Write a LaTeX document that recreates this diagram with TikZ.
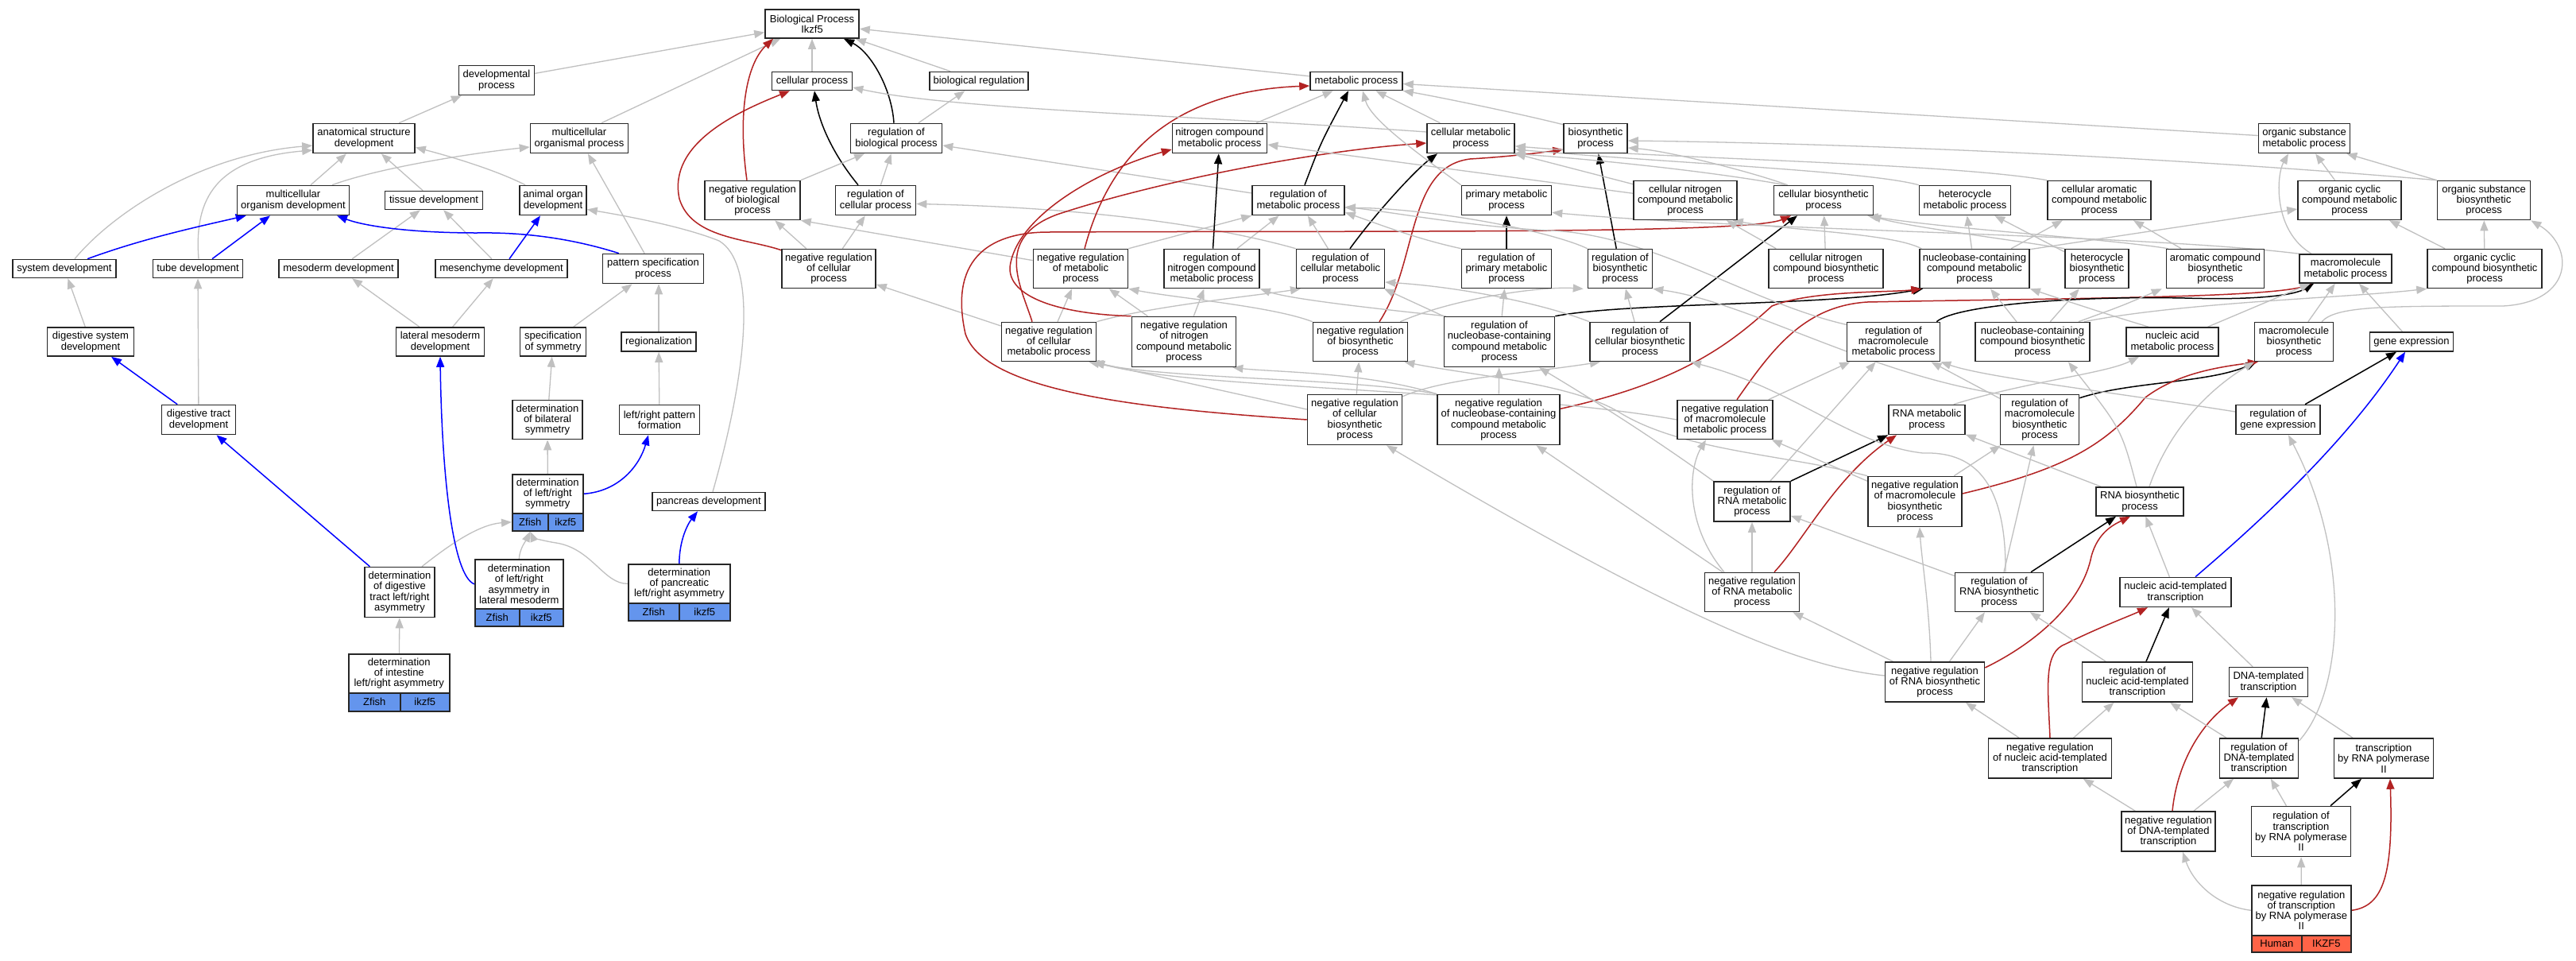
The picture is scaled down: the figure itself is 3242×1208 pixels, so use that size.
\documentclass[tikz,border=0pt]{standalone}
\usepackage{fontspec}
\setmainfont{Liberation Sans}
\usetikzlibrary{arrows.meta}
\definecolor{edgegray}{HTML}{C0C0C0}
\definecolor{negred}{HTML}{B22222}
\definecolor{zfblue}{HTML}{6495ED}
\definecolor{hstomato}{HTML}{FF6347}
\pgfdeclarelayer{back}
\pgfdeclarelayer{edgelayer}
\pgfsetlayers{back,edgelayer,main}
\tikzset{
  gobox/.style={draw=black!85, line width=1.6pt, fill=white, inner sep=0pt, align=center, font=\fontsize{13}{13.3}\selectfont},
  annbox/.style={draw=black!85, line width=1.6pt, inner sep=0pt, align=center, anchor=north west, font=\fontsize{13}{13.3}\selectfont},
  goarrow/.style={-{Triangle[length=13pt,width=10pt]}},
  gE/.style={draw=edgegray, line width=1.3pt, goarrow},
  kE/.style={draw=black, line width=1.5pt, goarrow},
  rE/.style={draw=negred, line width=1.5pt, goarrow},
  bE/.style={draw=blue, line width=1.5pt, goarrow},
}
\newcommand\gonode[6]{\node[gobox, minimum width=#4pt, minimum height=#5pt] (#1) at (#2,-#3) {#6};}
\begin{document}
\begin{tikzpicture}[x=1pt,y=1pt]
\useasboundingbox (0,0) rectangle (3242,-1208);
\begin{pgfonlayer}{back}
\fill[white] (0,0) rectangle (3242,-1208);
\end{pgfonlayer}
% ---------- nodes ----------
\gonode{BP}{1022}{30}{118}{36}{Biological Process\\Ikzf5}
\gonode{dev}{625}{101}{95}{37}{developmental\\process}
\gonode{cp}{1022}{102}{101}{23}{cellular process}
\gonode{breg}{1232}{102}{124}{23}{biological regulation}
\gonode{mp}{1707}{102}{116}{23}{metabolic process}
\gonode{asd}{458}{174}{128}{37}{anatomical structure\\development}
\gonode{mop}{729}{174}{123}{37}{multicellular\\organismal process}
\gonode{rbp}{1128}{174}{115}{37}{regulation of\\biological process}
\gonode{ncmp}{1535}{174}{119}{37}{nitrogen compound\\metabolic process}
\gonode{cmp}{1851}{174}{110}{37}{cellular metabolic\\process}
\gonode{bsp}{2008}{174}{80}{37}{biosynthetic\\process}
\gonode{osmp}{2900}{174}{115}{37}{organic substance\\metabolic process}
\gonode{mod}{369}{252}{141}{37}{multicellular\\organism development}
\gonode{td}{546}{252}{123}{23}{tissue development}
\gonode{aod}{696}{252}{84}{37}{animal organ\\development}
\gonode{nrbp}{947}{252}{120}{49}{negative regulation\\of biological\\process}
\gonode{rcp}{1102}{252}{101}{37}{regulation of\\cellular process}
\gonode{rmp}{1634}{252}{116}{37}{regulation of\\metabolic process}
\gonode{pmp}{1896}{252}{113}{37}{primary metabolic\\process}
\gonode{cncmp}{2121}{252}{130}{49}{cellular nitrogen\\compound metabolic\\process}
\gonode{cbp}{2295}{252}{125}{37}{cellular biosynthetic\\process}
\gonode{hmp}{2473}{252}{115}{37}{heterocycle\\metabolic process}
\gonode{camp}{2642}{252}{130}{49}{cellular aromatic\\compound metabolic\\process}
\gonode{occmp}{2957}{252}{130}{49}{organic cyclic\\compound metabolic\\process}
\gonode{osbp}{3126}{252}{117}{49}{organic substance\\biosynthetic\\process}
\gonode{sd}{81}{338}{130}{23}{system development}
\gonode{tubed}{249}{338}{113}{23}{tube development}
\gonode{mesod}{426}{338}{150}{23}{mesoderm development}
\gonode{mesen}{631}{338}{166}{23}{mesenchyme development}
\gonode{psp}{822}{338}{127}{37}{pattern specification\\process}
\gonode{nrcp}{1043}{338}{118}{49}{negative regulation\\of cellular\\process}
\gonode{nrmp}{1360}{338}{119}{49}{negative regulation\\of metabolic\\process}
\gonode{rncmp}{1525}{338}{120}{49}{regulation of\\nitrogen compound\\metabolic process}
\gonode{rcmp}{1687}{338}{111}{49}{regulation of\\cellular metabolic\\process}
\gonode{rpmp}{1896}{338}{113}{49}{regulation of\\primary metabolic\\process}
\gonode{rbsp}{2039}{338}{81}{49}{regulation of\\biosynthetic\\process}
\gonode{cncbp}{2298}{338}{144}{49}{cellular nitrogen\\compound biosynthetic\\process}
\gonode{nbcmp}{2485}{338}{138}{49}{nucleobase-containing\\compound metabolic\\process}
\gonode{hbp}{2639}{338}{80}{49}{heterocycle\\biosynthetic\\process}
\gonode{abp}{2788}{338}{123}{49}{aromatic compound\\biosynthetic\\process}
\gonode{mmp}{2952}{338}{116}{36}{macromolecule\\metabolic process}
\gonode{occbp}{3127}{338}{144}{49}{organic cyclic\\compound biosynthetic\\process}
\gonode{dsd}{114}{430}{109}{36}{digestive system\\development}
\gonode{lmd}{554}{430}{111}{36}{lateral mesoderm\\development}
\gonode{sos}{696}{430}{83}{36}{specification\\of symmetry}
\gonode{regz}{829}{430}{94}{24}{regionalization}
\gonode{nrcmp}{1320}{430}{119}{49}{negative regulation\\of cellular\\metabolic process}
\gonode{nrncmp}{1490}{430}{131}{63}{negative regulation\\of nitrogen\\compound metabolic\\process}
\gonode{nrbsp}{1712}{430}{119}{49}{negative regulation\\of biosynthetic\\process}
\gonode{rnbcmp}{1887}{430}{139}{63}{regulation of\\nucleobase-containing\\compound metabolic\\process}
\gonode{rcbp}{2064}{430}{126}{49}{regulation of\\cellular biosynthetic\\process}
\gonode{rmmp}{2383}{430}{117}{49}{regulation of\\macromolecule\\metabolic process}
\gonode{nbcbp}{2558}{430}{144}{49}{nucleobase-containing\\compound biosynthetic\\process}
\gonode{namp}{2734}{430}{116}{36}{nucleic acid\\metabolic process}
\gonode{mbp}{2887}{430}{99}{49}{macromolecule\\biosynthetic\\process}
\gonode{ge}{3035}{430}{105}{24}{gene expression}
\gonode{dtd}{250}{528}{93}{37}{digestive tract\\development}
\gonode{dbs}{689}{528}{88}{49}{determination\\of bilateral\\symmetry}
\gonode{lrpf}{830}{528}{101}{37}{left/right pattern\\formation}
\gonode{nrcbp}{1705}{528}{119}{63}{negative regulation\\of cellular\\biosynthetic\\process}
\gonode{nrnbcmp}{1886}{528}{154}{63}{negative regulation\\of nucleobase-containing\\compound metabolic\\process}
\gonode{nrmmp}{2171}{528}{120}{49}{negative regulation\\of macromolecule\\metabolic process}
\gonode{rnamp}{2425}{528}{96}{37}{RNA metabolic\\process}
\gonode{rmbp}{2567}{528}{99}{63}{regulation of\\macromolecule\\biosynthetic\\process}
\gonode{rge}{2867}{528}{106}{37}{regulation of\\gene expression}
\gonode{pd}{892}{631}{142}{23}{pancreas development}
\gonode{rrnamp}{2205}{631}{96}{50}{regulation of\\RNA metabolic\\process}
\gonode{nrmbp}{2410}{631}{118}{63}{negative regulation\\of macromolecule\\biosynthetic\\process}
\gonode{rnabp}{2693}{631}{110}{36}{RNA biosynthetic\\process}
\gonode{ddt}{503}{745}{88}{63}{determination\\of digestive\\tract left/right\\asymmetry}
\gonode{nrrnamp}{2205}{745}{119}{49}{negative regulation\\of RNA metabolic\\process}
\gonode{rrnabp}{2516}{745}{111}{49}{regulation of\\RNA biosynthetic\\process}
\gonode{nat}{2738}{745}{140}{37}{nucleic acid-templated\\transcription}
\gonode{nrrnabp}{2435}{858}{125}{50}{negative regulation\\of RNA biosynthetic\\process}
\gonode{rnat}{2690}{858}{139}{50}{regulation of\\nucleic acid-templated\\transcription}
\gonode{dtt}{2855}{858}{99}{37}{DNA-templated\\transcription}
\gonode{nrnat}{2580}{954}{155}{50}{negative regulation\\of nucleic acid-templated\\transcription}
\gonode{rdtt}{2843}{954}{99}{50}{regulation of\\DNA-templated\\transcription}
\gonode{trp2}{3000}{954}{125}{50}{transcription\\by RNA polymerase\\II}
\gonode{nrdtt}{2729}{1046}{118}{50}{negative regulation\\of DNA-templated\\transcription}
\gonode{rtrp2}{2896}{1046}{125}{63}{regulation of\\transcription\\by RNA polymerase\\II}
% annotated nodes
\node[gobox, anchor=north west, minimum width=89pt, minimum height=49pt] (dlrs) at (644,-596) {determination\\of left/right\\symmetry};
\node[annbox, fill=zfblue, minimum width=45pt, minimum height=22pt] (dlrsA) at (644,-645) {Zfish};
\node[annbox, fill=zfblue, minimum width=44pt, minimum height=22pt] (dlrsB) at (689,-645) {ikzf5};
\node[gobox, anchor=north west, minimum width=111pt, minimum height=62pt] (dlrlm) at (597,-703) {determination\\of left/right\\asymmetry in\\lateral mesoderm};
\node[annbox, fill=zfblue, minimum width=56pt, minimum height=22pt] (dlrlmA) at (597,-765) {Zfish};
\node[annbox, fill=zfblue, minimum width=55pt, minimum height=22pt] (dlrlmB) at (653,-765) {ikzf5};
\node[gobox, anchor=north west, minimum width=128pt, minimum height=49pt] (dpa) at (790,-709) {determination\\of pancreatic\\left/right asymmetry};
\node[annbox, fill=zfblue, minimum width=64pt, minimum height=22pt] (dpaA) at (790,-758) {Zfish};
\node[annbox, fill=zfblue, minimum width=64pt, minimum height=22pt] (dpaB) at (854,-758) {ikzf5};
\node[gobox, anchor=north west, minimum width=127pt, minimum height=49pt] (dila) at (438,-822) {determination\\of intestine\\left/right asymmetry};
\node[annbox, fill=zfblue, minimum width=65pt, minimum height=23pt] (dilaA) at (438,-871) {Zfish};
\node[annbox, fill=zfblue, minimum width=62pt, minimum height=23pt] (dilaB) at (503,-871) {ikzf5};
\node[gobox, anchor=north west, minimum width=125pt, minimum height=63pt] (nrtrp2) at (2833,-1113) {negative regulation\\of transcription\\by RNA polymerase\\II};
\node[annbox, fill=hstomato, minimum width=63pt, minimum height=21pt] (nrtrp2A) at (2833,-1176) {Human};
\node[annbox, fill=hstomato, minimum width=62pt, minimum height=21pt] (nrtrp2B) at (2896,-1176) {IKZF5};
% ---------- edges ----------
\begin{pgfonlayer}{edgelayer}
% left cluster
\draw[gE] (dev) -- (BP);
\draw[gE] ([xshift=28pt]mop.north) -- (BP);
\draw[gE] (asd) -- (dev);
\draw[gE] (mod) -- (asd);
\draw[gE] ([xshift=49pt]mod.north) .. controls (480,-210) and (600,-192) .. (mop.190);
\draw[gE] (td) -- (asd);
\draw[gE] ([xshift=8pt]aod.north west) .. controls (620,-212) and (560,-195) .. (asd.-10);
\draw[gE] ([xshift=13pt]sd.north) .. controls (140,-270) and (250,-195) .. (asd.188);
\draw[gE] ([xshift=1pt]tubed.north) .. controls (245,-260) and (262,-200) .. (asd.193);
\draw[gE] (mesod) -- (td);
\draw[gE] (mesen) -- (td);
\draw[gE] (psp) -- (mop);
\draw[gE] ([xshift=5pt]pd.north) .. controls (945,-450) and (950,-330) .. (905,-303) .. controls (860,-285) and (790,-272) .. (aod.-15);
\draw[gE] (dsd) -- (sd);
\draw[gE] (dtd) -- (tubed);
\draw[gE] (lmd) -- (mesod);
\draw[gE] (lmd) -- (mesen);
\draw[gE] (sos) -- (psp);
\draw[gE] (regz.north) -- ([xshift=7pt]psp.south);
\draw[gE] (dbs) -- (sos);
\draw[gE] (lrpf) -- (regz);
\draw[gE] (dlrs) -- (dbs);
\draw[gE] ([xshift=28pt]ddt.north) .. controls (560,-690) and (600,-660) .. (dlrsA.west);
\draw[gE] (dlrlm.north) .. controls (654,-690) and (662,-680) .. (dlrsA.south);
\draw[gE] (dpa.west) .. controls (760,-735) and (745,-690) .. (700,-683) .. controls (680,-680) and (670,-675) .. (dlrsA.south);
\draw[gE] (dila) -- (ddt);
\draw[bE] ([xshift=29pt]sd.north) .. controls (180,-300) and (250,-285) .. ([xshift=12pt]mod.south west);
\draw[bE] ([xshift=18pt]tubed.north) -- ([xshift=-29pt]mod.south);
\draw[bE] ([xshift=-43pt]psp.north) .. controls (720,-300) and (660,-292) .. (600,-293) .. controls (520,-293) and (460,-285) .. ([xshift=55pt]mod.south);
\draw[bE] ([xshift=10pt]mesen.north) -- ([xshift=-16pt]aod.south);
\draw[bE] (dtd) -- (dsd);
\draw[bE] (ddt) -- (dtd);
\draw[bE] (dlrlm.west) .. controls (570,-725) and (556,-600) .. (lmd.south);
\draw[bE] (dlrs.east) .. controls (780,-618) and (805,-585) .. ([xshift=-14pt]lrpf.south);
\draw[bE] (dpa.north) .. controls (855,-680) and (865,-660) .. ([xshift=-14pt]pd.south);
% upper middle
\draw[gE] (cp) -- (BP);
\draw[kE] ([xshift=-3pt]rbp.north) .. controls (1122,-110) and (1095,-65) .. ([xshift=40pt]BP.south);
\draw[gE] (breg) -- (BP);
\draw[rE] ([xshift=-7pt]nrbp.north) .. controls (928,-140) and (940,-80) .. ([xshift=-49pt]BP.south);
\draw[gE] (mp) -- (BP);
\draw[gE] (rbp) -- (breg);
\draw[kE] ([xshift=-22pt]rcp.north) .. controls (1045,-190) and (1030,-150) .. ([xshift=3pt]cp.south);
\draw[gE] (rcp) -- (rbp);
\draw[gE] (nrbp.north east) -- ([xshift=-40pt]rbp.south);
\draw[rE] ([yshift=-2pt]nrcp.north west) .. controls (940,-300) and (870,-300) .. (855,-250) .. controls (840,-180) and (930,-140) .. ([xshift=-28pt]cp.south);
\draw[gE] (nrcp) -- (nrbp);
\draw[gE] (nrcp) -- (rcp);
\draw[gE] (rmp) -- (rbp);
\draw[gE] (rcmp.north west) .. controls (1550,-290) and (1400,-262) .. (rcp.-5);
\draw[gE] (nrcmp) -- (nrcp);
\draw[gE] (nrmp) -- (nrbp.south east);
\draw[gE] (nrmp.north east) -- (rmp.south west);
\draw[gE] (rncmp) -- (rmp);
\draw[kE] (rncmp) -- (ncmp);
\draw[gE] (nrcmp) -- (nrmp);
\draw[gE] (nrncmp) -- (nrmp);
\draw[gE] (nrncmp) -- (rncmp);
\draw[gE] (nrcmp.north east) .. controls (1450,-385) and (1580,-372) .. ([xshift=-50pt]rcmp.south);
\draw[rE] ([xshift=5pt]nrmp.north) .. controls (1395,-200) and (1470,-115) .. ([yshift=-6pt]mp.west);
\draw[rE] (nrncmp.north west) .. controls (1330,-395) and (1262,-372) .. (1272,-330) .. controls (1285,-270) and (1380,-215) .. (ncmp.193);
\draw[rE] ([xshift=-21pt]nrcmp.north) .. controls (1285,-360) and (1250,-300) .. (1330,-270) .. controls (1450,-230) and (1650,-190) .. ([yshift=-6pt]cmp.west);
\draw[rE] (nrcbp.west) .. controls (1450,-515) and (1240,-495) .. (1215,-420) .. controls (1195,-330) and (1240,-292) .. (1320,-292) .. controls (1700,-290) and (2200,-295) .. ([xshift=-41pt]cbp.south);
\draw[rE] ([xshift=24pt]nrbsp.north) .. controls (1785,-330) and (1770,-210) .. (1850,-200) .. controls (1900,-197) and (1940,-192) .. (bsp.199);
\draw[kE] ([xshift=8pt]rmp.north) .. controls (1662,-180) .. ([xshift=-10pt]mp.south);
\draw[kE] ([xshift=12pt]rcmp.north) .. controls (1730,-270) and (1780,-215) .. ([xshift=-42pt]cmp.south);
\draw[kE] (rpmp) -- (pmp);
\draw[kE] (rbsp) -- (bsp);
\draw[kE] ([xshift=25pt]rcbp.north) -- ([xshift=-33pt]cbp.south);
\draw[kE] (rnbcmp.north east) .. controls (2050,-380) and (2300,-385) .. ([xshift=5pt]nbcmp.south west);
\draw[rE] (nrnbcmp.10) .. controls (2120,-480) and (2180,-430) .. (2230,-385) .. controls (2280,-365) and (2380,-368) .. ([xshift=3pt]nbcmp.south west);
\draw[rE] ([xshift=15pt]nrmmp.north) .. controls (2230,-440) and (2270,-385) .. (2350,-380) .. controls (2600,-375) and (2850,-375) .. ([xshift=-40pt]mmp.south);
\draw[kE] ([xshift=-5pt]rmmp.north east) .. controls (2460,-385) and (2600,-372) .. (2750,-375) .. controls (2850,-378) and (2890,-370) .. ([xshift=-40pt]mmp.south);
\draw[kE] ([yshift=-5pt]rmbp.north east) .. controls (2680,-480) and (2780,-482) .. ([xshift=-47pt]mbp.south);
\draw[rE] ([yshift=10pt]nrmbp.east) .. controls (2600,-590) and (2650,-560) .. (2700,-500) .. controls (2740,-470) and (2790,-462) .. ([xshift=-45pt]mbp.south);
\draw[kE] (rrnamp.north east) -- (rnamp.south west);
\draw[rE] ([xshift=28pt]nrrnamp.north) .. controls (2270,-680) and (2310,-600) .. ([xshift=-38pt]rnamp.south);
\draw[kE] ([xshift=40pt]rrnabp.north) -- ([xshift=-30pt]rnabp.south);
\draw[rE] ([yshift=18pt]nrrnabp.east) .. controls (2560,-810) and (2620,-760) .. (2632,-700) .. controls (2640,-670) and (2660,-660) .. ([xshift=-12pt]rnabp.south);
\draw[kE] (rnat) -- (nat);
\draw[rE] (nrnat.north) .. controls (2577,-860) and (2572,-820) .. (2600,-810) .. controls (2640,-790) and (2680,-775) .. ([xshift=-35pt]nat.south);
\draw[kE] (rdtt) -- (dtt);
\draw[rE] ([xshift=5pt]nrdtt.north) .. controls (2740,-960) and (2770,-910) .. ([xshift=-38pt]dtt.south);
\draw[kE] ([xshift=37pt]rtrp2.north) -- ([xshift=-28pt]trp2.south);
\draw[rE] (nrtrp2.east) .. controls (3000,-1140) and (3012,-1100) .. ([xshift=8pt]trp2.south);
\draw[kE] ([xshift=34pt]rge.north) -- ([xshift=-19pt]ge.south);
\draw[bE] ([xshift=25pt]nat.north) .. controls (2840,-660) and (2950,-560) .. ([xshift=-8pt]ge.south);
% gray middle / right
\draw[gE] ([yshift=8pt]cmp.west) .. controls (1500,-145) and (1200,-138) .. ([yshift=-8pt]cp.east);
\draw[gE] (ncmp) -- (mp);
\draw[gE] (pmp.north west) .. controls (1780,-190) and (1725,-150) .. ([xshift=8pt]mp.south);
\draw[gE] (cmp) -- (mp);
\draw[gE] ([yshift=-2pt]bsp.north west) .. controls (1900,-140) and (1800,-120) .. (mp.south east);
\draw[gE] (osmp) -- (mp);
\draw[gE] (cncmp) -- (ncmp);
\draw[gE] ([yshift=-5pt]cncmp.north west) -- (cmp.south east);
\draw[gE] ([xshift=15pt]cbp.north west) .. controls (2150,-215) and (2000,-200) .. ([xshift=-3pt]cmp.south east);
\draw[gE] ([xshift=18pt]cbp.north west) .. controls (2200,-215) and (2100,-190) .. ([yshift=-12pt]bsp.east);
\draw[gE] (osbp.north west) .. controls (2700,-195) and (2300,-180) .. ([yshift=-3pt]bsp.east);
\draw[gE] (camp.north west) .. controls (2450,-205) and (2100,-200) .. (cmp.-10);
\draw[gE] (hmp.north west) .. controls (2350,-215) and (2100,-205) .. (cmp.-14);
\draw[gE] (mmp.north west) .. controls (2700,-295) and (2200,-290) .. (pmp.-15);
\draw[gE] (rcmp) -- (rmp);
\draw[gE] (rpmp.north west) .. controls (1780,-300) and (1730,-280) .. ([yshift=4pt]rmp.south east);
\draw[gE] (rbsp.north west) .. controls (1950,-290) and (1800,-262) .. ([yshift=10pt]rmp.south east);
\draw[gE] (rmmp.160) .. controls (2200,-380) and (2080,-295) .. (1950,-290) .. controls (1850,-285) and (1760,-268) .. (rmp.-8);
\draw[gE] ([xshift=3pt]nbcmp.north west) .. controls (2380,-293) and (2250,-290) .. ([xshift=-6pt]cncmp.south east);
\draw[gE] ([xshift=10pt]cncbp.north west) -- ([xshift=-14pt]cncmp.south east);
\draw[gE] (cncbp) -- (cbp);
\draw[gE] (hbp.north west) .. controls (2520,-300) and (2400,-285) .. ([xshift=-4pt]cbp.south east);
\draw[gE] ([xshift=3pt]abp.north west) .. controls (2650,-300) and (2450,-288) .. ([xshift=-8pt]cbp.south east);
\draw[gE] (nbcmp) -- (hmp);
\draw[gE] (hbp) -- (hmp);
\draw[gE] (nbcmp) -- (camp);
\draw[gE] (abp) -- (camp);
\draw[gE] ([yshift=-1pt]nbcmp.north east) -- ([yshift=-11pt]occmp.west);
\draw[gE] (occmp) -- (osmp);
\draw[gE] ([xshift=-43pt]mmp.north) .. controls (2860,-290) and (2865,-220) .. ([xshift=-20pt]osmp.south);
\draw[gE] (osbp.north west) -- ([xshift=-5pt]osmp.south east);
\draw[gE] (occbp) -- (occmp);
\draw[gE] (occbp) -- (osbp);
\draw[gE] ([xshift=35pt]mbp.north) .. controls (2940,-385) and (3000,-385) .. (3150,-385) .. controls (3240,-380) and (3240,-310) .. (osbp.south east);
\draw[gE] (nbcbp) -- (nbcmp);
\draw[gE] ([xshift=-30pt]namp.north) .. controls (2650,-395) and (2590,-375) .. (nbcmp.south east);
\draw[gE] (nbcbp) -- (hbp);
\draw[gE] ([xshift=-15pt]nbcbp.north east) .. controls (2670,-385) .. ([xshift=-5pt]abp.south west);
\draw[gE] ([xshift=-8pt]nbcbp.north east) .. controls (2750,-380) and (2950,-375) .. (occbp.south west);
\draw[gE] (mbp) -- (mmp);
\draw[gE] (ge) -- (mmp);
\draw[gE] (namp) -- (mmp);
\draw[gE] (rnbcmp) -- (rpmp);
\draw[gE] (rnbcmp) -- (rcmp);
\draw[gE] ([xshift=3pt]rnbcmp.north west) .. controls (1700,-385) and (1620,-375) .. (rncmp.south east);
\draw[gE] ([xshift=-10pt]nrbsp.north east) .. controls (1830,-375) and (1940,-360) .. ([xshift=-5pt]rbsp.south west);
\draw[gE] (rcbp) -- (rbsp);
\draw[gE] (rcbp.north west) .. controls (1950,-385) and (1850,-362) .. ([yshift=-17pt]rcmp.east);
\draw[gE] (rmbp.north west) .. controls (2350,-470) and (2200,-380) .. (rbsp.south east);
\draw[gE] (nrbsp.north west) .. controls (1600,-385) and (1480,-375) .. (nrmp.south east);
\draw[gE] (nrcbp) -- (nrbsp);
\draw[gE] ([yshift=-3pt]nrcbp.north east) .. controls (1820,-475) and (1920,-470) .. ([xshift=-50pt]rcbp.south);
\draw[gE] ([yshift=13pt]nrcbp.west) -- ([xshift=-5pt]nrcmp.south east);
\draw[gE] (nrnbcmp) -- (rnbcmp);
\draw[gE] (nrnbcmp.north west) .. controls (1700,-475) and (1480,-478) .. ([xshift=-10pt]nrcmp.south east);
\draw[gE] (nrnbcmp.north west) .. controls (1720,-468) and (1600,-468) .. ([xshift=-5pt]nrncmp.south east);
\draw[gE] (nrmmp.west) .. controls (1900,-490) and (1500,-490) .. ([xshift=-3pt]nrcmp.south east);
\draw[gE] (nrmmp) -- (rmmp);
\draw[gE] (rrnamp.north west) .. controls (2080,-550) and (2000,-500) .. ([xshift=50pt]rnbcmp.south);
\draw[gE] (rrnamp) -- (rmmp);
\draw[gE] (nrrnamp) -- (rrnamp);
\draw[gE] ([xshift=-35pt]nrrnamp.north) .. controls (2120,-660) and (2125,-590) .. ([xshift=-24pt]nrmmp.south);
\draw[gE] (nrrnamp) -- (nrnbcmp);
\draw[gE] (rrnabp) -- (rrnamp);
\draw[gE] (rrnabp) -- (rmbp);
\draw[gE] ([xshift=8pt]rrnabp.north) .. controls (2525,-600) and (2480,-568) .. (2420,-570) .. controls (2330,-560) and (2260,-490) .. (rcbp.south east);
\draw[gE] (nrmbp) -- (rmbp);
\draw[gE] (nrmbp) -- (nrmmp);
\draw[gE] (nrmbp.north west) .. controls (2250,-572) and (2120,-568) .. (2040,-520) .. controls (1980,-482) and (1850,-472) .. ([xshift=-5pt]nrbsp.south east);
\draw[gE] (rmbp) -- (rmmp);
\draw[gE] ([yshift=10pt]rge.west) .. controls (2650,-492) and (2500,-475) .. (rmmp.south east);
\draw[gE] ([xshift=-15pt]rnamp.north east) .. controls (2550,-480) and (2650,-470) .. ([xshift=-42pt]namp.south);
\draw[gE] (rnabp) -- (rnamp);
\draw[gE] ([xshift=-4pt]rnabp.north) .. controls (2670,-540) .. ([xshift=45pt]nbcbp.south);
\draw[gE] ([xshift=12pt]rnabp.north) .. controls (2730,-540) and (2780,-490) .. ([xshift=-50pt]mbp.south);
\draw[gE] (nat) -- (rnabp);
\draw[gE] (nrrnabp) -- (nrrnamp);
\draw[gE] (nrrnabp) -- (rrnabp);
\draw[gE] ([xshift=-5pt]nrrnabp.north) .. controls (2428,-760) and (2418,-700) .. ([xshift=6pt]nrmbp.south);
\draw[gE] ([yshift=8pt]nrrnabp.west) .. controls (2280,-840) and (2150,-800) .. ([xshift=40pt]nrcbp.south);
\draw[gE] (rnat) -- (rrnabp);
\draw[gE] (dtt) -- (nat);
\draw[gE] ([yshift=-4pt]rdtt.north east) .. controls (2950,-870) and (2960,-700) .. ([xshift=13pt]rge.south);
\draw[gE] (trp2) -- (dtt);
\draw[gE] (nrnat) -- (nrrnabp);
\draw[gE] (nrnat) -- (rnat);
\draw[gE] (rdtt) -- (rnat);
\draw[gE] (nrdtt) -- (nrnat);
\draw[gE] (nrdtt) -- (rdtt);
\draw[gE] (rtrp2) -- (rdtt);
\draw[gE] (nrtrp2) -- (rtrp2);
\draw[gE] (nrtrp2.west) .. controls (2790,-1140) and (2760,-1110) .. ([xshift=18pt]nrdtt.south);
\end{pgfonlayer}
\end{tikzpicture}
\end{document}
